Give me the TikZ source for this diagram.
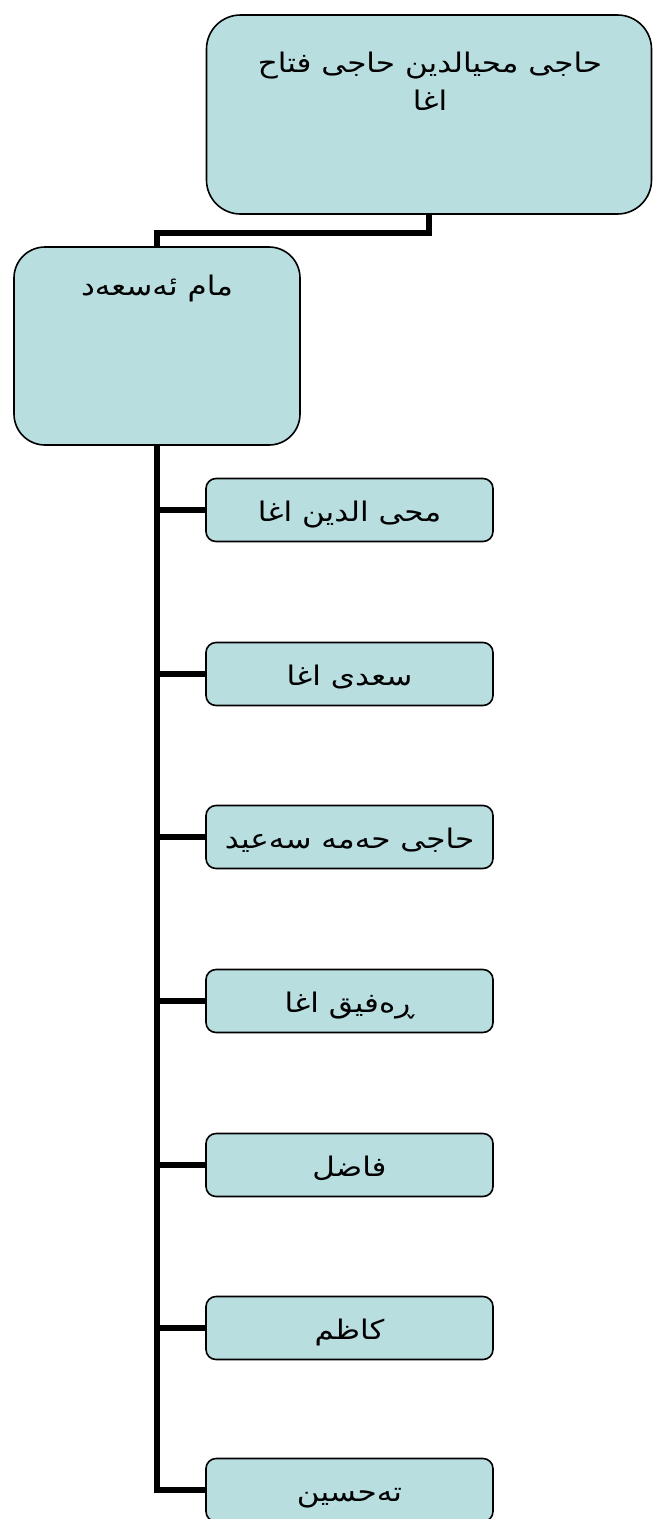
\documentclass[tikz,border=0pt]{standalone}
\usepackage{fontspec}
\TeXXeTstate=1
\newfontfamily\arabicfont[Script=Arabic,FakeStretch=1.15]{DejaVu Sans}
\definecolor{boxfill}{RGB}{185,222,224}
\begin{document}
\begin{tikzpicture}[x=1pt,y=-1pt,
  boxbase/.style={draw=black, line width=1.6pt, fill=boxfill, inner sep=0pt},
  bigbox/.style={boxbase, rounded corners=34pt},
  childbox/.style={boxbase, rounded corners=10pt, minimum width=287pt, minimum height=63pt},
  lbl/.style={font=\arabicfont\fontsize{27}{38}\selectfont, inner sep=0pt, anchor=base},
  conn/.style={line width=5.5pt, black}]
\useasboundingbox (0,0) rectangle (653,1519);
% boxes
\node[bigbox, minimum width=445pt, minimum height=199pt] (top) at (429,114.5) {};
\node[bigbox, minimum width=286pt, minimum height=198pt, rounded corners=31pt] (mid) at (157,346) {};
\node[childbox] (c1) at (349.5,510) {};
\node[childbox] (c2) at (349.5,674) {};
\node[childbox] (c3) at (349.5,837) {};
\node[childbox] (c4) at (349.5,1001) {};
\node[childbox] (c5) at (349.5,1165) {};
\node[childbox] (c6) at (349.5,1328) {};
\node[childbox] (c7) at (349.5,1490) {};
% connectors
\draw[conn] (top.south) -- ++(0,18) coordinate (j) -| (mid.north);
\draw[conn] (mid.south) |- (c7.west);
\foreach \c in {c1,c2,c3,c4,c5,c6} {
  \draw[conn] (mid.south |- \c.west) -- (\c.west);
}
% labels
\node[lbl] (t0a) at (430,72) {\beginR حاجی محیالدین حاجی فتاح\endR};
\node[lbl] (t0b) at (430,110) {\beginR اغا\endR};
\node[lbl] (t1) at (157,295) {\beginR مام ئەسعەد\endR};
\node[lbl] (l1) at ([yshift=-11pt]c1.center) {\beginR محی الدین اغا\endR};
\node[lbl] (l2) at ([yshift=-11pt]c2.center) {\beginR سعدی اغا\endR};
\node[lbl] (l3) at ([yshift=-11pt]c3.center) {\beginR حاجی حەمە سەعید\endR};
\node[lbl] (l4) at ([yshift=-11pt]c4.center) {\beginR ڕەفیق اغا\endR};
\node[lbl] (l5) at ([yshift=-11pt]c5.center) {\beginR فاضل\endR};
\node[lbl] (l6) at ([yshift=-11pt]c6.center) {\beginR کاظم\endR};
\node[lbl] (l7) at ([yshift=-11pt]c7.center) {\beginR تەحسین\endR};
\end{tikzpicture}
\end{document}
